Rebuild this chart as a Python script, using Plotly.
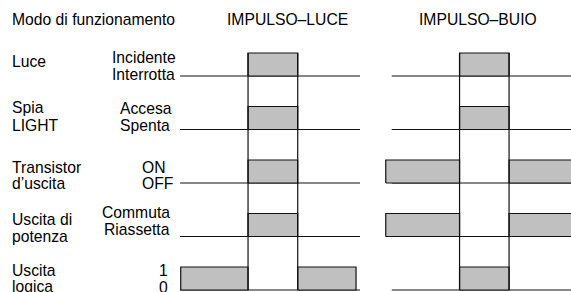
import plotly.graph_objects as go

# ---------------- data ----------------
HEADER = "Modo di funzionamento"
PANEL_TITLES = ["IMPULSO–LUCE", "IMPULSO–BUIO"]
ROW_LABELS = [["Luce"], ["Spia", "LIGHT"], ["Transistor", "d’uscita"],
              ["Uscita di", "potenza"], ["Uscita", "logica"]]
HIGH_STATES = ["Incidente", "Accesa", "ON", "Commuta", "1"]
LOW_STATES = ["Interrotta", "Spenta", "OFF", "Riassetta", "0"]

# signal level in the three segments: before / during / after the pulse
LUCE_LEVELS = [[0, 1, 0], [0, 1, 0], [0, 1, 0], [0, 1, 0], [1, 0, 1]]
BUIO_LEVELS = [[0, 1, 0], [0, 1, 0], [1, 0, 1], [1, 0, 1], [0, 1, 0]]

# time edges: start, pulse on, pulse off, end
LUCE_EDGES = [0.04, 3.78, 6.54, 9.78]
BUIO_EDGES = [0.32, 4.42, 7.17, 11.5]
# baseline (low level) time span
LUCE_BASE = [0.0, 10.0]
BUIO_BASE = [0.65, 11.5]

# ---------------- style ----------------
HIGH = 0.43
FILL = "#c0c0c0"
LINE = "#111111"
FONT = "Liberation Sans, Arial, Helvetica, sans-serif"
FS = 15.7
W, H = 571, 292

fig = go.Figure()


def add_panel(levels, edges, base, xa):
    nrows = len(levels)
    for i, lv in enumerate(levels):
        y0 = -i
        fig.add_trace(go.Scatter(x=base, y=[y0, y0], mode="lines", xaxis=xa,
                                 line=dict(color=LINE, width=1.2),
                                 hoverinfo="skip", showlegend=False))
        for k, v in enumerate(lv):
            if v:
                a, b = edges[k], edges[k + 1]
                fig.add_trace(go.Scatter(
                    x=[a, b, b, a, a], y=[y0, y0, y0 + HIGH, y0 + HIGH, y0],
                    mode="lines", fill="toself", fillcolor=FILL, xaxis=xa,
                    line=dict(color=LINE, width=1.2),
                    hoverinfo="skip", showlegend=False))
    on, off = edges[1], edges[2]
    fig.add_trace(go.Scatter(
        x=[on, on, None, off, off],
        y=[HIGH, -(nrows - 1), None, HIGH, -(nrows - 1)],
        mode="lines", xaxis=xa, line=dict(color=LINE, width=1.2),
        hoverinfo="skip", showlegend=False))


add_panel(LUCE_LEVELS, LUCE_EDGES, LUCE_BASE, "x")
add_panel(BUIO_LEVELS, BUIO_EDGES, BUIO_BASE, "x2")


def py(px):
    return 1 - px / H


def px_x(px):
    return px / W


ann = []


def text(t, x, y, xanchor="left"):
    ann.append(dict(text=t, x=px_x(x), y=py(y), xref="paper", yref="paper",
                    xanchor=xanchor, yanchor="middle", showarrow=False,
                    font=dict(family=FONT, size=FS, color="#000")))


text(HEADER, 10, 19.5)
text(PANEL_TITLES[0], 287, 19.5, "center")
text(PANEL_TITLES[1], 478, 19.5, "center")

row_label_y = [[62], [108, 125.5], [167, 183.5], [219.5, 236], [270, 286]]
for lab, ys in zip(ROW_LABELS, row_label_y):
    for t, y in zip(lab, ys):
        text(t, 10, y)

state_y = [(57.5, 74), (108.5, 125), (167, 183), (212.5, 229), (270, 287)]
state_x = [(110, 110, "left"), (118, 118, "left"), (140, 140, "left"),
           (172, 172, "right"), (170, 170, "right")]
for hi, lo, (yh, yl), (xh, xl, anc) in zip(HIGH_STATES, LOW_STATES, state_y, state_x):
    text(hi, xh, yh, anc)
    text(lo, xl, yl, anc)

axis_common = dict(visible=False, showgrid=False, zeroline=False, fixedrange=True)
fig.update_layout(
    width=W, height=H,
    margin=dict(l=0, r=0, t=0, b=0, pad=0),
    paper_bgcolor="white", plot_bgcolor="white",
    xaxis=dict(domain=[180 / W, 360 / W], range=[0, 10], **axis_common),
    xaxis2=dict(domain=[380 / W, 1], range=[0, (W - 380) / 18], anchor="y", **axis_common),
    yaxis=dict(domain=[0, 1], range=[-(H - 76) / 53.5, 76 / 53.5], **axis_common),
    annotations=ann,
    showlegend=False,
)

fig.write_html(
    "out.html",
    config={"displayModeBar": False},
    post_script="document.body.style.margin='0';document.body.style.padding='0';document.body.style.overflow='hidden';",
)
